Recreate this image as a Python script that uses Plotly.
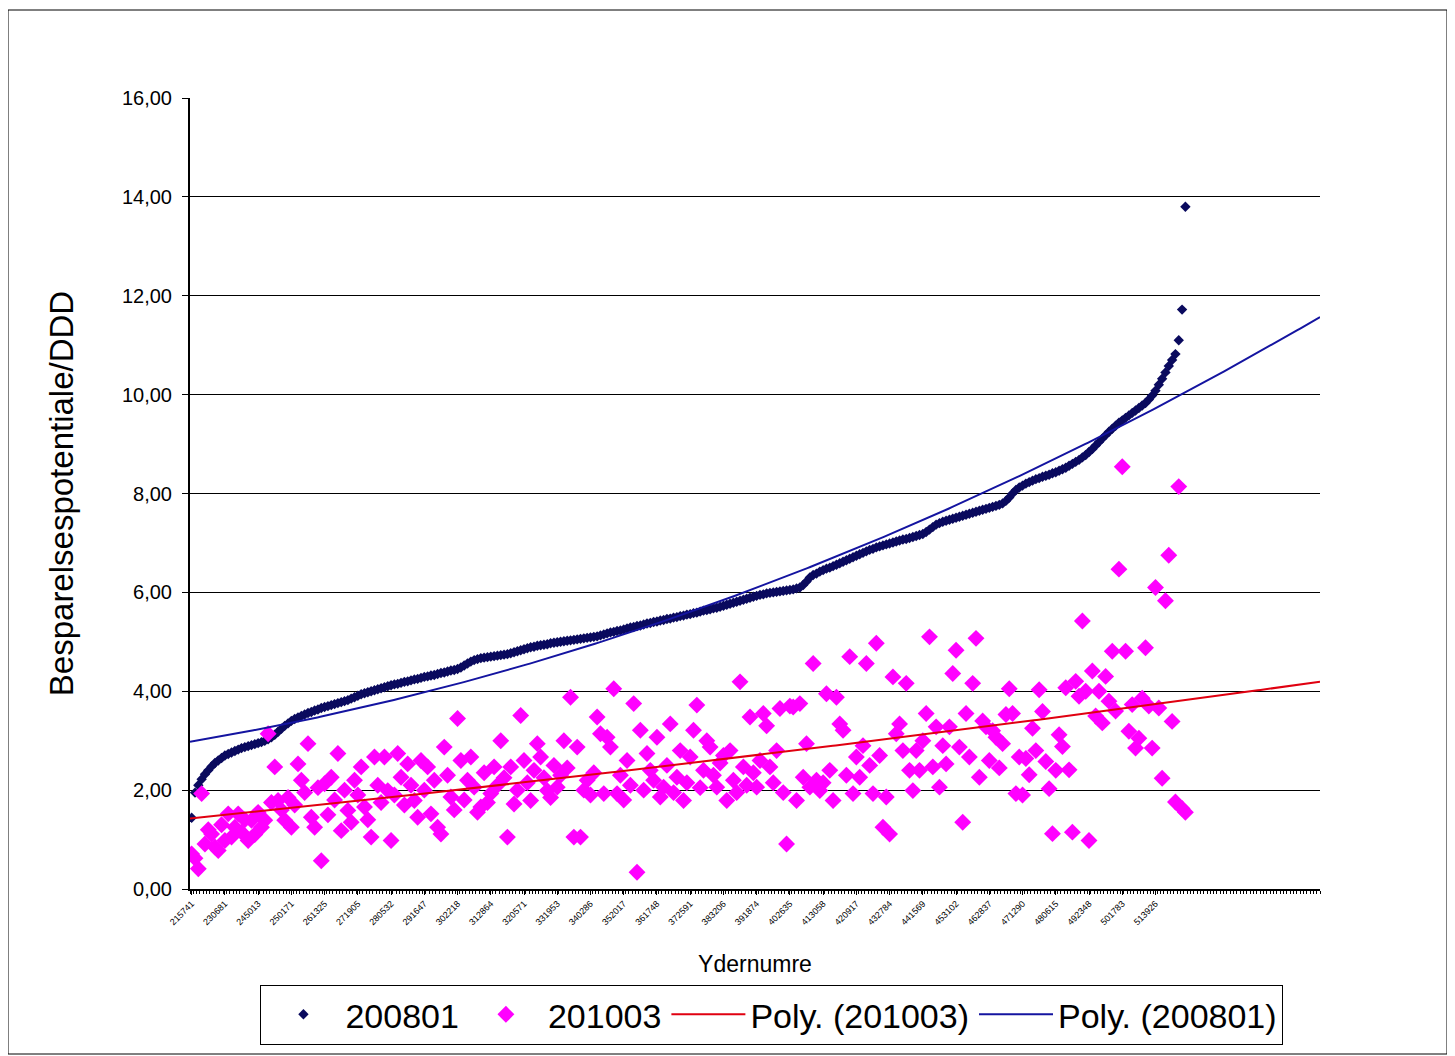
import numpy as np
import plotly.graph_objects as go

# ---------------- data ----------------
series_200801 = [
    1.44, 1.95, 2.10, 2.22, 2.32, 2.40, 2.48, 2.55, 2.60, 2.65, 2.70, 2.73, 2.76, 2.79, 2.82, 2.85, 2.87, 2.89, 2.91, 2.93,
    2.95, 2.97, 3.00, 3.03, 3.07, 3.12, 3.18, 3.24, 3.30, 3.35, 3.40, 3.44, 3.47, 3.50, 3.53, 3.56, 3.58, 3.61, 3.63, 3.66,
    3.68, 3.70, 3.72, 3.74, 3.76, 3.78, 3.80, 3.82, 3.85, 3.88, 3.91, 3.94, 3.96, 3.98, 4.00, 4.02, 4.04, 4.06, 4.08, 4.10,
    4.12, 4.14, 4.15, 4.17, 4.19, 4.20, 4.22, 4.24, 4.25, 4.27, 4.29, 4.30, 4.32, 4.33, 4.35, 4.37, 4.38, 4.40, 4.42, 4.43,
    4.45, 4.48, 4.52, 4.56, 4.60, 4.63, 4.65, 4.67, 4.68, 4.69, 4.70, 4.71, 4.72, 4.73, 4.74, 4.75, 4.77, 4.79, 4.81, 4.83,
    4.85, 4.87, 4.89, 4.90, 4.92, 4.93, 4.94, 4.95, 4.97, 4.98, 4.99, 5.00, 5.01, 5.02, 5.03, 5.04, 5.05, 5.06, 5.07, 5.08,
    5.09, 5.10, 5.11, 5.13, 5.15, 5.17, 5.19, 5.20, 5.22, 5.23, 5.25, 5.27, 5.29, 5.30, 5.32, 5.33, 5.35, 5.37, 5.38, 5.40,
    5.41, 5.43, 5.44, 5.46, 5.47, 5.49, 5.50, 5.52, 5.53, 5.55, 5.56, 5.58, 5.59, 5.61, 5.63, 5.64, 5.66, 5.68, 5.69, 5.71,
    5.73, 5.75, 5.77, 5.79, 5.81, 5.83, 5.85, 5.87, 5.89, 5.91, 5.93, 5.95, 5.96, 5.98, 5.99, 6.00, 6.01, 6.02, 6.03, 6.04,
    6.05, 6.06, 6.08, 6.10, 6.15, 6.22, 6.30, 6.35, 6.38, 6.42, 6.45, 6.48, 6.50, 6.53, 6.56, 6.59, 6.62, 6.65, 6.68, 6.71,
    6.74, 6.77, 6.80, 6.83, 6.86, 6.88, 6.91, 6.93, 6.95, 6.97, 6.99, 7.01, 7.03, 7.05, 7.07, 7.08, 7.10, 7.12, 7.14, 7.16,
    7.18, 7.22, 7.27, 7.32, 7.37, 7.40, 7.43, 7.45, 7.47, 7.49, 7.51, 7.53, 7.55, 7.57, 7.59, 7.61, 7.63, 7.65, 7.67, 7.69,
    7.71, 7.73, 7.75, 7.77, 7.80, 7.85, 7.92, 8.00, 8.07, 8.12, 8.16, 8.20, 8.23, 8.26, 8.29, 8.31, 8.34, 8.36, 8.38, 8.41,
    8.43, 8.46, 8.49, 8.52, 8.56, 8.60, 8.64, 8.68, 8.73, 8.78, 8.84, 8.90, 8.97, 9.04, 9.11, 9.18, 9.25, 9.31, 9.37, 9.43,
    9.48, 9.53, 9.58, 9.63, 9.68, 9.73, 9.78, 9.83, 9.90, 9.98, 10.08, 10.20, 10.32, 10.45, 10.58, 10.70, 10.82, 11.10, 11.72, 13.80,
]

series_201003 = [
    0.71, 0.62, 0.41, 1.93, 0.91, 1.20, 1.11, 0.85, 0.78, 1.30, 0.98, 1.52, 1.05, 1.25, 1.52, 1.15, 1.40, 0.98, 1.39, 1.10,
    1.55, 1.25, 1.39, 3.14, 1.75, 2.47, 1.79, 1.60, 1.39, 1.85, 1.25, 1.70, 2.53, 2.20, 1.95, 2.94, 1.45, 1.25, 2.05, 0.57,
    2.13, 1.50, 2.26, 1.80, 2.74, 1.18, 2.00, 1.59, 1.35, 2.20, 1.90, 2.47, 1.66, 1.40, 1.05, 2.67, 2.10, 1.75, 2.67, 1.99,
    0.98, 1.90, 2.74, 2.26, 1.70, 2.53, 2.10, 1.79, 1.45, 2.60, 2.00, 2.47, 1.52, 2.20, 1.25, 1.11, 2.87, 2.30, 1.86, 1.60,
    3.45, 2.60, 1.80, 2.20, 2.67, 2.06, 1.55, 1.66, 2.35, 1.75, 1.93, 2.47, 2.10, 3.00, 2.25, 1.05, 2.47, 1.72, 2.00, 3.51,
    2.60, 2.15, 1.79, 2.40, 2.94, 2.67, 2.25, 1.99, 1.85, 2.50, 2.06, 2.30, 3.00, 2.45, 3.88, 1.05, 2.87, 1.05, 2.00, 2.20,
    1.90, 2.35, 3.48, 3.14, 1.93, 3.07, 2.87, 4.05, 1.93, 2.30, 1.80, 2.60, 2.10, 3.75, 0.34, 3.21, 2.00, 2.74, 2.40, 2.20,
    3.07, 1.86, 2.06, 2.50, 3.34, 1.95, 2.26, 2.80, 1.79, 2.15, 2.67, 3.21, 3.72, 2.05, 2.40, 3.00, 2.87, 2.30, 2.06, 2.55,
    2.70, 1.79, 2.80, 2.20, 1.95, 4.19, 2.47, 2.10, 3.48, 2.35, 2.06, 2.60, 3.55, 3.30, 2.47, 2.15, 2.80, 3.65, 1.95, 0.91,
    3.70, 3.68, 1.79, 3.75, 2.26, 2.94, 2.06, 4.56, 2.20, 1.99, 2.15, 3.95, 2.40, 1.79, 3.88, 3.34, 3.21, 2.30, 4.70, 1.93,
    2.67, 2.26, 2.90, 4.56, 2.50, 1.93, 4.97, 2.70, 1.25, 1.86, 1.11, 4.29, 3.14, 3.34, 2.80, 4.16, 2.40, 1.99, 2.80, 2.40,
    3.00, 3.55, 5.10, 2.47, 3.28, 2.06, 2.90, 2.53, 3.28, 4.36, 4.83, 2.87, 1.35, 3.55, 2.67, 4.16, 5.07, 2.26, 3.40, 3.28,
    2.60, 3.20, 3.07, 2.45, 2.94, 3.53, 4.05, 3.55, 1.93, 2.67, 1.90, 2.64, 2.31, 3.25, 2.80, 4.03, 3.59, 2.58, 2.03, 1.12,
    2.40, 3.12, 2.88, 4.07, 2.41, 1.15, 4.20, 3.90, 5.42, 4.00, 0.98, 4.41, 3.50, 4.00, 3.36, 4.30, 3.80, 4.81, 3.60, 6.47,
    8.54, 4.81, 3.19, 3.73, 2.85, 3.05, 3.86, 4.88, 3.70, 2.85, 6.10, 3.66, 2.24, 5.83, 6.75, 3.39, 1.76, 8.14, 1.63, 1.55,
]

# category axis extends beyond the data (trendlines forecast to the end)
n_categories_axis = 340
label_every = 10
tick_labels = [
    "215741", "230681", "245013", "250171", "261325", "271905", "280532", "291647", "302218", "312864",
    "320571", "331953", "340286", "352017", "361748", "372591", "383206", "391874", "402635", "413058",
    "420917", "432784", "441569", "453102", "462837", "471290", "480615", "492348", "501783", "513926",
]

y_ticks = [0, 2, 4, 6, 8, 10, 12, 14, 16]

# ---------------- figure ----------------
N = len(series_200801)
xi = np.arange(1, N + 1)
x_trend = np.linspace(0.5, n_categories_axis + 0.5, 400)
fit_201003 = np.polyval(np.polyfit(xi, series_201003, 2), x_trend)
fit_200801 = np.polyval(np.polyfit(xi, series_200801, 2), x_trend)

FONT = "Liberation Sans, Arial, sans-serif"

fig = go.Figure()
fig.add_trace(go.Scatter(
    x=xi, y=series_200801, mode="markers", name="200801",
    marker=dict(symbol="diamond", size=8, color="#0a0a5e", line=dict(width=0)),
))
fig.add_trace(go.Scatter(
    x=xi, y=series_201003, mode="markers", name="201003",
    marker=dict(symbol="diamond", size=13, color="#ff00ff", line=dict(width=0)),
))
fig.add_trace(go.Scatter(
    x=x_trend, y=fit_201003, mode="lines", name="Poly. (201003)",
    line=dict(color="#e00010", width=2),
))
fig.add_trace(go.Scatter(
    x=x_trend, y=fit_200801, mode="lines", name="Poly. (200801)",
    line=dict(color="#1414a0", width=2),
))

tickvals = [1 + k * label_every for k in range(len(tick_labels))]

# figure is placed at an 8px page offset, so margins are relative to that
L, T, PW, PH = 182, 90, 1130, 791
fig.update_layout(
    width=1455, height=1056,
    margin=dict(l=L, r=1455 - L - PW, t=T, b=1056 - T - PH),
    paper_bgcolor="white", plot_bgcolor="white",
    separators=",.",
    font=dict(family=FONT, color="black"),
    showlegend=True,
    legend=dict(
        orientation="h", x=0.515, xanchor="center", y=-0.121, yanchor="top",
        font=dict(size=34, family=FONT), bordercolor="black", borderwidth=1,
        bgcolor="white", itemwidth=74, traceorder="normal",
    ),
    xaxis=dict(
        range=[0.5, n_categories_axis + 0.5],
        showgrid=False, zeroline=False,
        showline=True, linecolor="black", linewidth=2,
        tickmode="array", tickvals=tickvals, ticktext=tick_labels,
        tickangle=-45, tickfont=dict(size=9, family=FONT, color="black"),
        ticks="outside", ticklen=4, tickcolor="black",
        minor=dict(ticks="outside", dtick=1, tick0=0.5, ticklen=3, tickcolor="black"),
        title=dict(text="Ydernumre", font=dict(size=23, family=FONT), standoff=30),
    ),
    yaxis=dict(
        range=[0, 16], tickvals=y_ticks, tickformat=".2f",
        showgrid=True, gridcolor="black", gridwidth=1,
        zeroline=False, showline=True, linecolor="black", linewidth=2,
        ticks="outside", ticklen=6, tickcolor="black",
        tickfont=dict(size=20, family=FONT), ticklabelstandoff=6,
        title=dict(text="Besparelsespotentiale/DDD", font=dict(size=33, family=FONT), standoff=38),
    ),
    shapes=[dict(
        type="rect", xref="paper", yref="paper",
        x0=(0 - L) / PW, x1=(1439 - L) / PW,
        y0=(T + PH - 1046) / PH, y1=(T + PH - 2) / PH,
        line=dict(color="black", width=1), fillcolor="rgba(0,0,0,0)", layer="below",
    )],
)

fig.write_html("out.html")
